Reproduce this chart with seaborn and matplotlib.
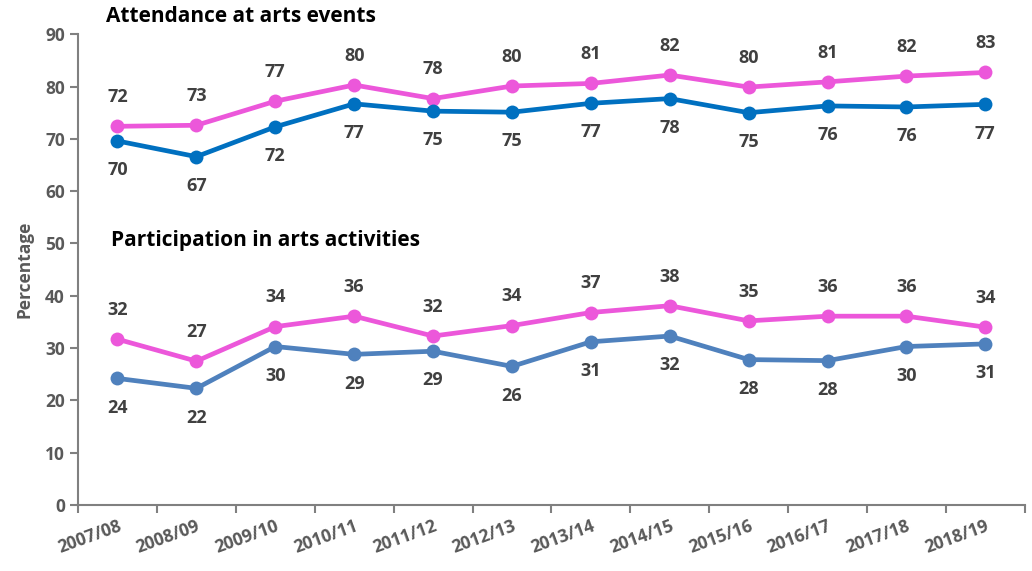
import numpy as np
import pandas as pd
import seaborn as sns
import matplotlib.pyplot as plt
from matplotlib.ticker import FixedLocator

years = ["2007/08", "2008/09", "2009/10", "2010/11", "2011/12", "2012/13",
         "2013/14", "2014/15", "2015/16", "2016/17", "2017/18", "2018/19"]

# Attendance at arts events
attend_pink = [72.4, 72.6, 77.2, 80.3, 77.7, 80.1, 80.6, 82.2, 79.9, 80.9, 82.0, 82.7]
attend_pink_lbl = [72, 73, 77, 80, 78, 80, 81, 82, 80, 81, 82, 83]
attend_blue = [69.6, 66.6, 72.3, 76.7, 75.3, 75.1, 76.8, 77.7, 75.0, 76.3, 76.1, 76.6]
attend_blue_lbl = [70, 67, 72, 77, 75, 75, 77, 78, 75, 76, 76, 77]

# Participation in arts activities
part_pink = [31.7, 27.5, 34.1, 36.1, 32.3, 34.3, 36.8, 38.1, 35.2, 36.1, 36.1, 34.0]
part_pink_lbl = [32, 27, 34, 36, 32, 34, 37, 38, 35, 36, 36, 34]
part_blue = [24.2, 22.3, 30.3, 28.8, 29.4, 26.5, 31.2, 32.3, 27.8, 27.6, 30.3, 30.8]
part_blue_lbl = [24, 22, 30, 29, 29, 26, 31, 32, 28, 28, 30, 31]

PINK = "#EC57DA"
DARK_BLUE = "#0070C0"
STEEL_BLUE = "#4F81BD"
TICK_GREY = "#595959"
LABEL_GREY = "#404040"

sns.set_style("white")
plt.rcParams['font.family'] = ['Open Sans', 'DejaVu Sans']

fig = plt.figure(figsize=(10.32, 5.71), dpi=100)
ax = fig.add_axes([0.0756, 0.1156, 0.9174, 0.8244])

x = np.arange(len(years))
series = [
    (attend_pink, attend_pink_lbl, PINK, "above"),
    (attend_blue, attend_blue_lbl, DARK_BLUE, "below"),
    (part_pink, part_pink_lbl, PINK, "above"),
    (part_blue, part_blue_lbl, STEEL_BLUE, "below"),
]

for vals, lbls, col, pos in series:
    df = pd.DataFrame({"x": x, "y": vals})
    sns.lineplot(data=df, x="x", y="y", ax=ax, color=col, linewidth=3.4,
                 marker="o", markersize=10, markeredgewidth=0)
    for xi, yi, lab in zip(x, vals, lbls):
        off = 21 if pos == "above" else -21
        ax.annotate(str(lab), (xi, yi), xytext=(0, off), textcoords="offset points",
                    ha="center", va="center", fontsize=13, fontweight="bold",
                    color=LABEL_GREY)

ax.set_xlim(-0.5, len(years) - 0.5)
ax.set_ylim(0, 90)
ax.set_yticks(range(0, 91, 10))
ax.set_xticks(x)
ax.set_xticklabels(years, rotation=20, ha="right", rotation_mode="anchor",
                   fontsize=12.5, fontweight="bold", color=TICK_GREY)
ax.xaxis.set_minor_locator(FixedLocator(np.arange(-0.5, len(years), 1.0)))
ax.tick_params(axis="x", which="major", length=0, pad=9)
ax.tick_params(axis="x", which="minor", length=6, width=1.5, color="#808080",
               direction="out", bottom=True)
ax.tick_params(axis="y", length=6, width=1.5, color="#808080", direction="out",
               left=True, labelsize=12.5, labelcolor=TICK_GREY)
for t in ax.get_yticklabels():
    t.set_fontweight("bold")

ax.set_xlabel("")
ax.set_ylabel("Percentage", fontsize=12.5, fontweight="bold", color=TICK_GREY, labelpad=8)

for s in ["top", "right"]:
    ax.spines[s].set_visible(False)
for s in ["left", "bottom"]:
    ax.spines[s].set_color("#808080")
    ax.spines[s].set_linewidth(1.5)

ax.text(-0.14, 93.4, "Attendance at arts events", fontsize=15, fontweight="bold",
        color="black", ha="left", va="center", clip_on=False)
ax.text(-0.08, 50.5, "Participation in arts activities", fontsize=15, fontweight="bold",
        color="black", ha="left", va="center")

fig.savefig("out.png", dpi=100)
